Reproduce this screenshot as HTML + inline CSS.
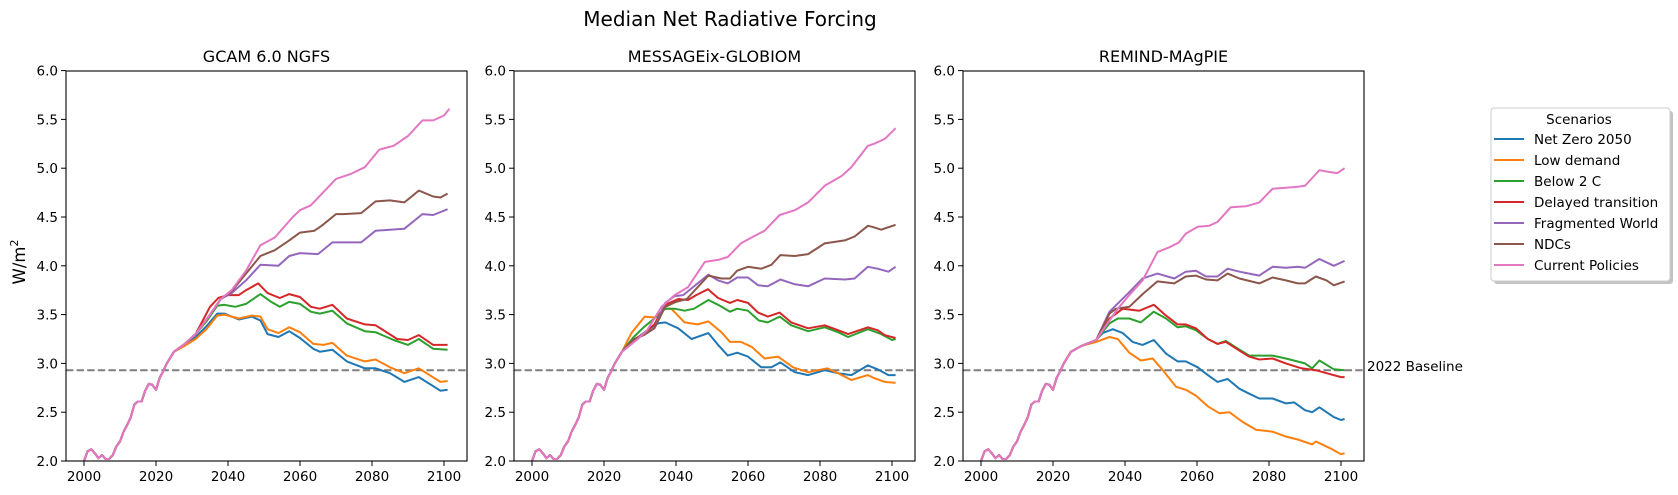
<!DOCTYPE html>
<html><head><meta charset="utf-8"><style>
body{margin:0;background:#fff;}
svg{display:block;font-family:"DejaVu Sans","Liberation Sans",sans-serif;}
</style></head><body>
<svg id="chart" width="1678" height="495" viewBox="0 0 1678 495" xmlns="http://www.w3.org/2000/svg">
<rect width="1678" height="495" fill="#fff"/>
<text x="730" y="26" font-size="20" text-anchor="middle">Median Net Radiative Forcing</text>
<text transform="translate(25,262) rotate(-90)" font-size="16.5" text-anchor="middle">W/m<tspan font-size="11" dy="-7">2</tspan></text>
<g id="panels"></g>
<text x="1367" y="371" font-size="13.5">2022 Baseline</text>
<g>
<rect x="1494" y="111" width="179" height="173" rx="3" fill="#888" opacity="0.5"/>
<rect x="1491" y="108" width="179" height="173" rx="3" fill="#fff" stroke="#ccc" stroke-width="1"/>
<text x="1579" y="124" font-size="13.5" text-anchor="middle">Scenarios</text>
<g id="legend-entries"></g>
</g>
</svg>
<script>
const NS='http://www.w3.org/2000/svg';
const scenarios=['Net Zero 2050','Low demand','Below 2 C','Delayed transition','Fragmented World','NDCs','Current Policies'];
const colors=['#1f77b4','#ff7f0e','#2ca02c','#d62728','#9467bd','#8c564b','#e377c2'];
const models=['GCAM 6.0 NGFS','MESSAGEix-GLOBIOM','REMIND-MAgPIE'];
const yTicks=[2.0,2.5,3.0,3.5,4.0,4.5,5.0,5.5,6.0];
const xTicks=[2000,2020,2040,2060,2080,2100];
const baseline=2.93;
const histYears=[2000,2001,2002,2003,2004,2005,2006,2007,2008,2009,2010,2011,2012,2013,2014,2015,2016,2017,2018,2019,2020,2021,2022,2023,2025];
const histVals=[2.0,2.1,2.12,2.08,2.03,2.06,2.02,2.02,2.06,2.15,2.2,2.3,2.37,2.45,2.58,2.61,2.61,2.72,2.79,2.78,2.73,2.85,2.92,3.0,3.12];
// GCAM
const gcamYears=[[2028,2031,2034,2037,2039,2043,2046.6,2049,2051,2054,2057,2060,2063.7,2065.5,2069,2073,2078,2081,2085,2089,2093,2099,2101],
[2028,2031,2034,2037,2039,2043,2046.6,2049,2051,2054,2057,2060,2063.7,2066.5,2069,2073,2078,2081,2085,2089,2093,2099,2101],
[2028,2031,2034,2037,2039,2042,2045,2049,2052,2054.4,2057,2060,2063,2065.5,2069,2073,2078,2081,2086,2090,2093,2097,2101],
[2028,2031,2035,2037.3,2040,2043,2045,2048.4,2051,2054.4,2057,2060,2063,2065.5,2069,2073,2078,2081,2087,2090,2093,2097,2101],
[2028,2031,2035,2038,2041,2045,2049,2054,2057,2060,2065,2069,2077,2081,2089,2094,2097,2101],
[2028,2031,2035,2038,2041,2045,2049,2053,2057,2060,2064,2066,2070,2072,2077,2081,2085,2089,2093,2097,2099,2101],
[2028,2031,2035,2038,2041,2045,2049,2053,2058,2060,2063,2070,2074,2078,2082,2086,2090,2094,2097,2100,2101.5]];
const gcamVals=[[3.19,3.27,3.38,3.51,3.51,3.45,3.48,3.44,3.3,3.27,3.33,3.26,3.15,3.12,3.14,3.02,2.95,2.95,2.9,2.81,2.86,2.72,2.73],
[3.18,3.25,3.35,3.49,3.5,3.46,3.49,3.48,3.35,3.31,3.37,3.32,3.2,3.19,3.21,3.08,3.02,3.04,2.96,2.9,2.95,2.81,2.82],
[3.2,3.3,3.43,3.59,3.6,3.58,3.61,3.71,3.63,3.58,3.63,3.61,3.53,3.51,3.54,3.41,3.33,3.32,3.24,3.19,3.25,3.15,3.14],
[3.2,3.3,3.58,3.67,3.7,3.7,3.75,3.82,3.72,3.67,3.71,3.68,3.58,3.56,3.6,3.46,3.4,3.39,3.25,3.24,3.29,3.19,3.19],
[3.2,3.3,3.5,3.66,3.72,3.85,4.01,4.0,4.1,4.13,4.12,4.24,4.24,4.36,4.38,4.53,4.52,4.58],
[3.2,3.3,3.5,3.66,3.74,3.92,4.1,4.16,4.26,4.34,4.36,4.41,4.53,4.53,4.54,4.66,4.67,4.65,4.77,4.71,4.7,4.74],
[3.2,3.3,3.5,3.66,3.75,3.95,4.21,4.29,4.5,4.57,4.62,4.89,4.94,5.01,5.19,5.23,5.33,5.49,5.49,5.54,5.61]];
// MESSAGE
const msgYears=[[2028.5,2032,2035,2037,2040.6,2044.3,2049,2051.7,2054.4,2057,2060,2063.7,2066.5,2069,2073,2076.7,2081.3,2085,2088.7,2093.3,2096,2099,2101],
[2027.6,2031.3,2034,2037,2038.7,2042.4,2046,2049,2052.6,2055,2058,2061,2064.6,2068.3,2072.5,2076.7,2082,2085,2088.7,2093.3,2095,2098,2101],
[2028,2031,2034,2037,2039.6,2042.4,2045,2049,2051.7,2055,2057,2060,2063,2065.5,2068.8,2072,2076.7,2081.3,2085,2087.8,2093.3,2097,2100,2101],
[2028,2031,2034,2037,2040.6,2043.3,2045.6,2048.9,2051.7,2055,2057,2060,2062.8,2065.5,2068.8,2072,2076.7,2081.3,2085,2087.8,2093.3,2096,2098,2101],
[2028,2031,2034,2037,2039.6,2042,2049,2051.7,2054.4,2057,2060,2062.8,2065.5,2069,2073,2076.7,2081.3,2086.9,2089.6,2093.3,2096,2099,2101],
[2028,2031,2034,2037,2040,2043,2049,2052.6,2055,2057,2060,2063.7,2066.5,2069,2073,2076.7,2081.3,2086.9,2089.6,2093.3,2094.5,2097,2101],
[2029.4,2032,2036,2039.6,2043.3,2048,2051.7,2054.4,2058,2061,2064.6,2068.8,2073,2076.7,2081.3,2086,2088.7,2093.3,2095,2098,2101]];
const msgVals=[[3.24,3.34,3.41,3.42,3.36,3.25,3.31,3.19,3.08,3.11,3.07,2.96,2.96,3.01,2.91,2.88,2.93,2.9,2.88,2.98,2.94,2.88,2.88],
[3.31,3.48,3.47,3.56,3.56,3.42,3.4,3.43,3.32,3.22,3.22,3.17,3.05,3.07,2.96,2.91,2.95,2.9,2.83,2.88,2.85,2.81,2.8],
[3.26,3.37,3.46,3.56,3.56,3.54,3.56,3.65,3.6,3.53,3.56,3.54,3.44,3.42,3.48,3.39,3.33,3.37,3.32,3.27,3.35,3.3,3.24,3.25],
[3.24,3.3,3.4,3.6,3.66,3.65,3.7,3.76,3.67,3.62,3.65,3.62,3.52,3.48,3.52,3.42,3.36,3.39,3.34,3.3,3.37,3.34,3.29,3.26],
[3.24,3.29,3.36,3.62,3.69,3.7,3.91,3.85,3.82,3.88,3.88,3.8,3.79,3.86,3.81,3.79,3.87,3.86,3.87,3.99,3.97,3.94,3.99],
[3.24,3.29,3.36,3.58,3.63,3.66,3.9,3.87,3.87,3.95,3.99,3.97,4.01,4.11,4.1,4.12,4.23,4.26,4.3,4.41,4.4,4.37,4.42],
[3.25,3.34,3.58,3.7,3.78,4.04,4.06,4.09,4.23,4.29,4.36,4.52,4.57,4.65,4.82,4.92,5.01,5.23,5.25,5.3,5.41]];
// REMIND
const remYears=[[2028,2032,2033.8,2036.6,2039.4,2042.1,2044.9,2048,2051.4,2054.6,2056.9,2060.2,2063,2065.7,2068.5,2071.8,2074.5,2077.3,2081,2084.7,2087,2090,2092,2094,2098,2100,2101],
[2028,2032,2035.7,2038,2041.2,2044.4,2047.7,2050.5,2054.2,2056.9,2059.7,2063,2066.2,2069,2072.7,2076.4,2081,2084.7,2088,2092,2093,2097,2100,2101],
[2028,2032,2035.7,2038,2041.2,2044.4,2048,2051.4,2054.6,2056.9,2059.7,2063,2065.7,2068,2071.8,2074.5,2077.3,2081,2084.7,2090,2092,2094,2098,2101],
[2028,2032,2035.7,2039.4,2044,2048,2051.4,2054.6,2056.9,2059.7,2063,2065.7,2068,2071.8,2074.5,2077.3,2081,2084.7,2089,2093,2096,2100,2101],
[2028,2032,2035.7,2041.2,2044.9,2049,2053.7,2056.9,2059.7,2062.5,2065.7,2068.5,2071.8,2074.5,2077.3,2081,2084.7,2088,2090,2094,2098,2101],
[2028,2032,2035.7,2037.5,2041.2,2044.9,2049,2053.7,2056.9,2059.7,2062.5,2065.7,2068.5,2071.8,2077.3,2081,2084.7,2088,2090,2093,2096,2098,2101],
[2028,2032,2035.7,2038,2041.2,2044.9,2049,2052.3,2055,2056.9,2060.2,2063.4,2065.7,2069.4,2073.6,2077.3,2081,2084.7,2088,2090,2092,2094,2097,2099,2101]];
const remVals=[[3.18,3.24,3.31,3.35,3.31,3.22,3.19,3.24,3.1,3.02,3.02,2.96,2.88,2.81,2.84,2.74,2.69,2.64,2.64,2.59,2.6,2.52,2.5,2.55,2.45,2.42,2.43],
[3.18,3.22,3.27,3.25,3.11,3.03,3.05,2.93,2.76,2.73,2.67,2.56,2.49,2.5,2.4,2.32,2.3,2.25,2.22,2.17,2.2,2.13,2.07,2.08],
[3.18,3.24,3.41,3.46,3.46,3.42,3.53,3.46,3.37,3.38,3.34,3.25,3.2,3.23,3.14,3.08,3.08,3.08,3.05,3.0,2.95,3.03,2.94,2.93],
[3.18,3.24,3.46,3.56,3.54,3.6,3.49,3.4,3.4,3.36,3.25,3.2,3.22,3.13,3.07,3.04,3.05,3.0,2.95,2.93,2.9,2.86,2.86],
[3.18,3.24,3.53,3.73,3.87,3.92,3.87,3.94,3.95,3.89,3.89,3.97,3.94,3.92,3.9,3.99,3.98,3.99,3.98,4.07,4.0,4.05],
[3.18,3.24,3.51,3.56,3.58,3.71,3.84,3.82,3.89,3.9,3.86,3.85,3.92,3.87,3.82,3.88,3.85,3.82,3.82,3.89,3.85,3.8,3.84],
[3.18,3.24,3.44,3.56,3.7,3.85,4.14,4.19,4.24,4.33,4.4,4.41,4.45,4.6,4.61,4.65,4.79,4.8,4.81,4.82,4.9,4.98,4.96,4.95,5.0]];
const allYears=[gcamYears,msgYears,remYears];
const allVals=[gcamVals,msgVals,remVals];

const panelLefts=[66,514,963];
const W=401, TOP=71, BOT=461;
function el(tag,attrs,parent){const e=document.createElementNS(NS,tag);for(const k in attrs)e.setAttribute(k,attrs[k]);parent.appendChild(e);return e;}
const root=document.getElementById('panels');
models.forEach((m,pi)=>{
  const L=panelLefts[pi];
  const xs=y=>L+18+(y-2000)*3.6;
  const ys=v=>BOT-(v-2)*97.6;
  const g=el('g',{},root);
  
  
  const t=el('text',{x:L+W/2,y:62,'font-size':16,'text-anchor':'middle'},g);
  
  
  t.textContent=m;
  const cp=el('clipPath',{id:'clip'+pi},g);
  el('rect',{x:L,y:TOP,width:W,height:BOT-TOP},cp);
  const lines=el('g',{'clip-path':'url(#clip'+pi+')'},g);
  const bl=el('line',{x1:L,x2:L+W,y1:ys(baseline),y2:ys(baseline),stroke:'#7f7f7f','stroke-width':2,'stroke-dasharray':'7.4,3.2'},lines);
  
  
  scenarios.forEach((s,si)=>{
    const yrs=histYears.concat(allYears[pi][si]);
    const vs=histVals.concat(allVals[pi][si]);
    const pts=yrs.map((y,i)=>xs(y).toFixed(1)+','+ys(vs[i]).toFixed(1)).join(' ');
    const pl=el('polyline',{points:pts,fill:'none',stroke:colors[si],'stroke-width':2,'stroke-linejoin':'round'},lines);
    
    
  });
  const frame=el('rect',{x:L,y:TOP,width:W,height:BOT-TOP,fill:'none',stroke:'#000','stroke-width':1.1},g);
  
  
  yTicks.forEach(v=>{
    el('line',{x1:L-5,x2:L,y1:ys(v),y2:ys(v),stroke:'#000','stroke-width':1},g);
    const tl=el('text',{x:L-8,y:ys(v)+5,'font-size':13.5,'text-anchor':'end'},g);
    
    
    tl.textContent=v.toFixed(1);
  });
  xTicks.forEach(y=>{
    el('line',{x1:xs(y),x2:xs(y),y1:BOT,y2:BOT+5,stroke:'#000','stroke-width':1},g);
    const tl=el('text',{x:xs(y),y:BOT+20,'font-size':13.5,'text-anchor':'middle'},g);
    
    
    tl.textContent=y;
  });
});
const le=document.getElementById('legend-entries');
scenarios.forEach((s,i)=>{
  const y=139+i*21;
  const g=el('g',{},le);
  
  
  el('line',{x1:1494,x2:1524,y1:y,y2:y,stroke:colors[i],'stroke-width':2},g);
  const t=el('text',{x:1534,y:y+5,'font-size':13.5},g);
  t.textContent=s;
});
</script>
</body></html>
